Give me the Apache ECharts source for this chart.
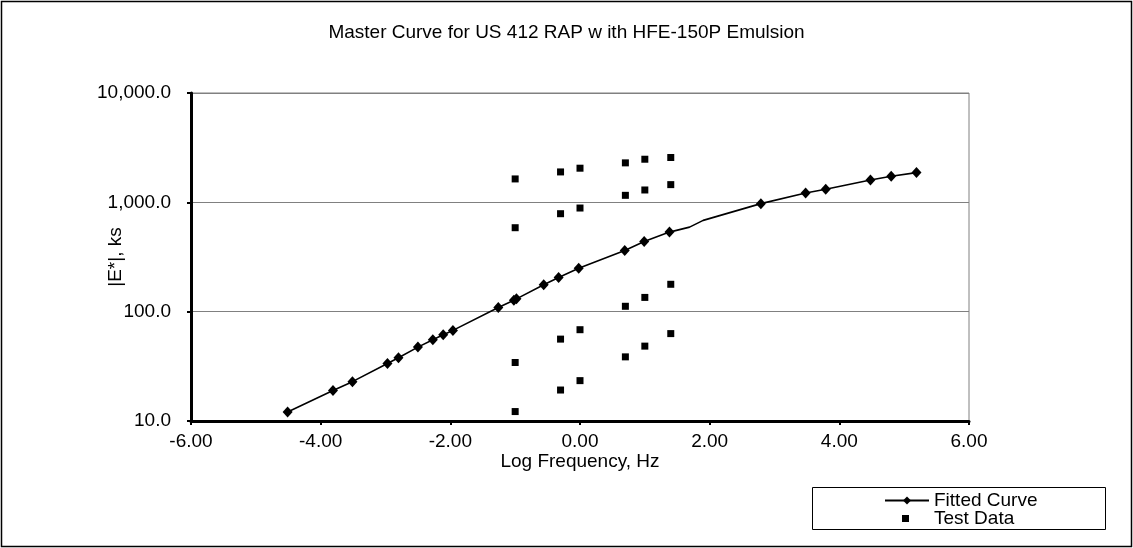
<!DOCTYPE html>
<html>
<head>
<meta charset="utf-8">
<script src="https://cdn.jsdelivr.net/npm/echarts@6/dist/echarts.min.js"></script>
<style>
html,body{margin:0;padding:0;background:#fff;}
#chart{width:1133px;height:548px;}
</style>
</head>
<body>
<div id="chart"></div>
<script>
// Fitted curve (log frequency, |E*| ks); marker flag 0 => plain line vertex
const fitX = [-4.51, -3.81, -3.51, -2.97, -2.80, -2.50, -2.27, -2.11, -1.96, -1.26, -1.02, -0.98, -0.56, -0.33, -0.02, 0.69, 0.99, 1.38, 1.69, 1.90, 2.79, 3.48, 3.79, 4.48, 4.80, 5.19];
const fitY = [12.1, 19.0, 22.9, 33.6, 37.9, 47.4, 55.3, 61.5, 67.4, 109, 127, 131, 176, 205, 249, 363, 439, 534, 593, 684, 973, 1216, 1315, 1603, 1733, 1871];
const fitMarker = [1,1,1,1,1,1,1,1,1,1,1,1,1,1,1,1,1,1,0,0,1,1,1,1,1,1];

// Test data
const testX = [-1.0, -1.0, -1.0, -1.0, -0.3, -0.3, -0.3, -0.3, 0.0, 0.0, 0.0, 0.0, 0.7, 0.7, 0.7, 0.7, 1.0, 1.0, 1.0, 1.0, 1.4, 1.4, 1.4, 1.4];
const testY = [1637, 586, 34.3, 12.2, 1897, 787, 56.1, 19.2, 2052, 887, 68.4, 23.4, 2296, 1159, 112, 38.6, 2479, 1297, 135, 48.4, 2570, 1452, 178, 63.0];

const titleText = 'Master Curve for US 412 RAP w ith HFE-150P Emulsion';
const xName = 'Log Frequency, Hz';
const yName = '|E*|, ks';
const seriesNames = ['Fitted Curve', 'Test Data'];

const FONT = "Arial, 'Liberation Sans', sans-serif";

const fitData = fitX.map((x, i) => fitMarker[i] ? [x, fitY[i]] : {value: [x, fitY[i]], symbol: 'none'});
const testData = testX.map((x, i) => [x, testY[i]]);

const chart = echarts.init(document.getElementById('chart'), null, {renderer: 'canvas'});
chart.setOption({
  backgroundColor: '#ffffff',
  animation: false,
  title: {
    text: titleText,
    left: 'center',
    top: 18,
    textStyle: {fontFamily: FONT, fontSize: 19, fontWeight: 'normal', color: '#000'}
  },
  grid: {
    left: 191, right: 164, top: 93, bottom: 127,
    show: true, borderColor: '#808080', borderWidth: 1, backgroundColor: 'transparent'
  },
  legend: [{
    data: [seriesNames[0]],
    left: 884, top: 491, padding: 0,
    itemWidth: 44, itemHeight: 10,
    itemGap: 0,
    textStyle: {fontFamily: FONT, fontSize: 19, color: '#000'}
  }, {
    data: [{name: seriesNames[1], icon: 'rect'}],
    left: 902, top: 509, padding: 0,
    itemWidth: 7, itemHeight: 7,
    textStyle: {fontFamily: FONT, fontSize: 19, color: '#000', padding: [0, 0, 0, 20]}
  }],
  graphic: [
    {type: 'rect', shape: {x: 1.5, y: 1.5, width: 1130, height: 545}, style: {fill: 'none', stroke: '#000', lineWidth: 1.5}, silent: true},
    {type: 'rect', shape: {x: 812.5, y: 487.5, width: 293, height: 42}, style: {fill: 'none', stroke: '#000', lineWidth: 1}, silent: true, z: 0}
  ],
  xAxis: {
    type: 'value', min: -6, max: 6, interval: 2,
    name: xName, nameLocation: 'middle', nameGap: 31, nameMoveOverlap: false,
    nameTextStyle: {fontFamily: FONT, fontSize: 19, color: '#000'},
    axisLine: {show: true, onZero: false, lineStyle: {color: '#000', width: 3}},
    axisTick: {show: true, length: 4, lineStyle: {color: '#000', width: 2}},
    axisLabel: {fontFamily: FONT, fontSize: 19, color: '#000', margin: 11, formatter: v => v.toFixed(2)},
    splitLine: {show: false}
  },
  yAxis: {
    type: 'log', logBase: 10, min: 10, max: 10000,
    name: yName, nameLocation: 'middle', nameGap: 66, nameMoveOverlap: false,
    nameTextStyle: {fontFamily: FONT, fontSize: 19, color: '#000'},
    axisLine: {show: true, onZero: false, lineStyle: {color: '#000', width: 3}},
    axisTick: {show: true, length: 4, lineStyle: {color: '#000', width: 2}},
    axisLabel: {fontFamily: FONT, fontSize: 19, color: '#000', margin: 20,
      formatter: v => Number(v).toLocaleString('en-US', {minimumFractionDigits: 1, maximumFractionDigits: 1})},
    splitLine: {show: true, lineStyle: {color: '#808080', width: 1}},
    minorTick: {show: false}
  },
  series: [{
    name: seriesNames[0],
    type: 'line',
    data: fitData,
    symbol: 'diamond',
    symbolSize: [10, 11],
    showAllSymbol: true,
    lineStyle: {color: '#000', width: 1.6},
    itemStyle: {color: '#000'},
    z: 3
  }, {
    name: seriesNames[1],
    type: 'scatter',
    data: testData,
    symbol: 'rect',
    symbolSize: 7,
    itemStyle: {color: '#000', opacity: 1},
    z: 2
  }]
});
</script>
</body>
</html>
